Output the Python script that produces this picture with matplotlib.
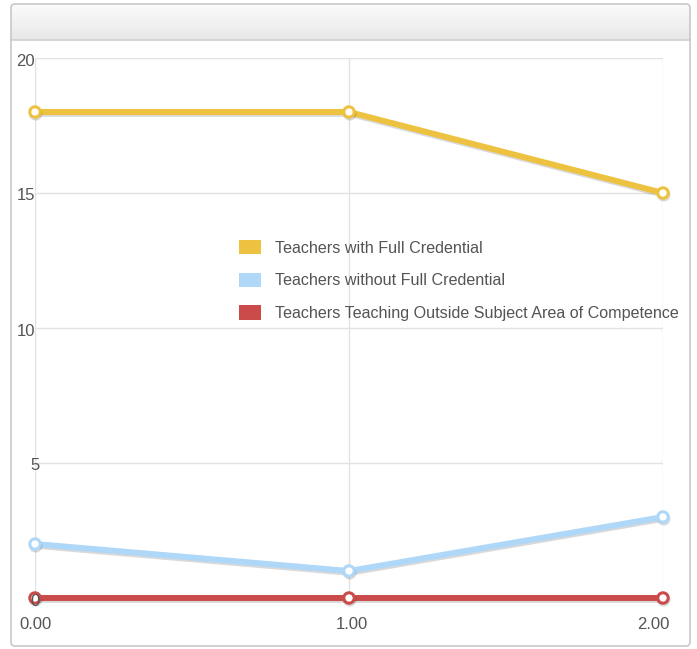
import matplotlib
matplotlib.use("Agg")
import matplotlib.pyplot as plt
import matplotlib.patheffects as pe
import numpy as np
from matplotlib.patches import FancyBboxPatch, Patch
from matplotlib.transforms import ScaledTranslation, blended_transform_factory

plt.rcParams["font.family"] = ["Liberation Sans", "DejaVu Sans"]

# data
x_vals = [0, 1, 2]
full_credential = [18, 18, 15]
without_credential = [2, 1, 3]
outside_subject = [0, 0, 0]
series_labels = [
    "Teachers with Full Credential",
    "Teachers without Full Credential",
    "Teachers Teaching Outside Subject Area of Competence",
]
series_colors = ["#edc240", "#afd8f8", "#cb4b4b"]
x_ticks = [0, 1, 2]
x_tick_labels = ["0.00", "1.00", "2.00"]
y_ticks = [0, 5, 10, 15, 20]

W, H = 697, 649
fig = plt.figure(figsize=(W / 100, H / 100), dpi=100)

# panel background (pixel coordinates)
bg = fig.add_axes([0, 0, 1, 1], zorder=0)
panel = FancyBboxPatch((11, 4), 679, 642, boxstyle="round,pad=0,rounding_size=4",
                       fc="white", ec="none", zorder=1)
bg.add_patch(panel)
grad = np.linspace(0, 1, 64).reshape(-1, 1)
cmap = matplotlib.colors.LinearSegmentedColormap.from_list("hdr", ["#fbfbfb", "#e8e8e8"])
im = bg.imshow(grad, cmap=cmap, extent=(11, 690, 40, 4), aspect="auto", zorder=2)
im.set_clip_path(panel)
bg.plot([11, 690], [40, 40], color="#cfcfcf", lw=1.2, zorder=3)
bg.add_patch(FancyBboxPatch((11, 4), 679, 642, boxstyle="round,pad=0,rounding_size=4",
                            fc="none", ec="#c8c8c8", lw=1.2, zorder=4))
bg.set_xlim(0, W)
bg.set_ylim(H, 0)
bg.axis("off")

# plot area
ax = fig.add_axes([35 / W, 1 - 598 / H, 628 / W, 540 / H], zorder=1)
ax.set_facecolor("none")

shadow = [pe.SimpleLineShadow(offset=(0.5, -1.3), shadow_color="black", alpha=0.15),
          pe.Normal()]
for vals, color, zo in zip([full_credential, without_credential, outside_subject],
                           series_colors, [3, 4, 5]):
    ax.plot(x_vals, vals, color=color, lw=4.3, marker="o", ms=7.5, mfc="white",
            mec=color, mew=2.2, clip_on=False, zorder=zo, path_effects=shadow)

ax.set_xlim(0, 2)
ax.set_ylim(0, 20)
ax.set_xticks(x_ticks)
ax.set_xticklabels(x_tick_labels)
ax.set_yticks(y_ticks)
ax.set_yticklabels([])
for s in ax.spines.values():
    s.set_visible(False)
ax.grid(True, color="#e2e2e2", lw=1)
ax.set_axisbelow(True)
ax.tick_params(axis="both", length=0, labelsize=12, labelcolor="#545454")
ax.tick_params(axis="x", pad=14)

for lbl, dx in zip(ax.get_xticklabels(), [0, 3, -10]):
    lbl.set_transform(lbl.get_transform() + ScaledTranslation(dx / 100, 0, fig.dpi_scale_trans))

# y labels drawn over the lines, like the original
ytrans = blended_transform_factory(ax.transAxes, ax.transData)
for v in y_ticks:
    dx = 5 if v < 10 else 0
    ax.text(0, v, str(v), transform=ytrans + ScaledTranslation(dx / 100, -3 / 100, fig.dpi_scale_trans),
            ha="right", va="center", fontsize=12, color="#545454", zorder=20, clip_on=False)

handles = [Patch(facecolor=c, edgecolor="none") for c in series_colors]
leg = ax.legend(handles, series_labels, loc="upper left",
                bbox_to_anchor=((239 - 35) / 628, (598 - 240) / 540),
                frameon=False, fontsize=11.6, handlelength=1.35, handleheight=1.0,
                handletextpad=0.9, labelspacing=1.05, borderpad=0, borderaxespad=0)
for t in leg.get_texts():
    t.set_color("#545454")
leg.set_zorder(10)

fig.savefig("out.png", dpi=100)
